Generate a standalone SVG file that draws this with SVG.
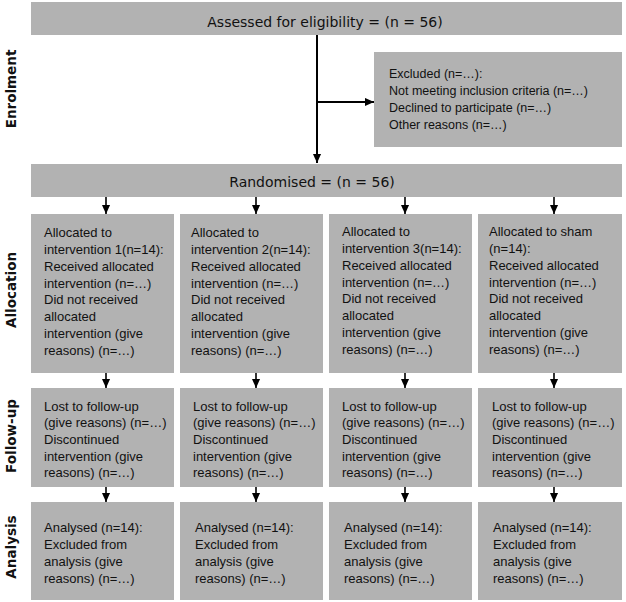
<svg xmlns="http://www.w3.org/2000/svg" width="626" height="602" viewBox="0 0 626 602">
<style>
.box{fill:#b2b2b2}
.title{font-family:"DejaVu Sans",Verdana,sans-serif;font-size:14px;fill:#111}
.lbl{font-family:"DejaVu Sans","Liberation Sans",sans-serif;font-weight:bold;font-size:13.5px;fill:#111}
.t{font-family:"Liberation Sans",Arial,sans-serif;font-size:13px;fill:#111}
.ts{font-family:"Liberation Sans",Arial,sans-serif;font-size:12.5px;fill:#111}
.ln{stroke:#000;stroke-width:2;fill:none}
.sl{stroke:#000;stroke-width:1.6;fill:none}
</style>
<defs>
<marker id="ah" viewBox="0 0 10 10" refX="10" refY="5" markerWidth="9" markerHeight="9" markerUnits="userSpaceOnUse" orient="auto">
<path d="M0,0.5 L10,5 L0,9.5 z" fill="#000"/>
</marker>
</defs>
<rect width="626" height="602" fill="#fff"/>

<g id="phase-labels">
<text class="lbl" transform="translate(16,89) rotate(-90)" text-anchor="middle">Enrolment</text>
<text class="lbl" transform="translate(16,290) rotate(-90)" text-anchor="middle">Allocation</text>
<text class="lbl" transform="translate(16,436) rotate(-90)" text-anchor="middle">Follow-up</text>
<text class="lbl" transform="translate(16,547) rotate(-90)" text-anchor="middle">Analysis</text>
</g>

<g id="connectors">
<line class="ln" x1="317" y1="35" x2="317" y2="163" marker-end="url(#ah)"/>
<line class="ln" x1="317" y1="102" x2="374" y2="102" marker-end="url(#ah)"/>
<line class="sl" x1="106" y1="197" x2="106" y2="214" marker-end="url(#ah)"/>
<line class="sl" x1="256" y1="197" x2="256" y2="214" marker-end="url(#ah)"/>
<line class="sl" x1="405" y1="197" x2="405" y2="214" marker-end="url(#ah)"/>
<line class="sl" x1="554" y1="197" x2="554" y2="214" marker-end="url(#ah)"/>
<line class="sl" x1="106" y1="373" x2="106" y2="388" marker-end="url(#ah)"/>
<line class="sl" x1="256" y1="373" x2="256" y2="388" marker-end="url(#ah)"/>
<line class="sl" x1="405" y1="373" x2="405" y2="388" marker-end="url(#ah)"/>
<line class="sl" x1="554" y1="373" x2="554" y2="388" marker-end="url(#ah)"/>
<line class="sl" x1="106" y1="487" x2="106" y2="502" marker-end="url(#ah)"/>
<line class="sl" x1="256" y1="487" x2="256" y2="502" marker-end="url(#ah)"/>
<line class="sl" x1="405" y1="487" x2="405" y2="502" marker-end="url(#ah)"/>
<line class="sl" x1="554" y1="487" x2="554" y2="502" marker-end="url(#ah)"/>
</g>

<g id="assessed">
<rect class="box" x="31" y="2" width="591" height="33"/>
<text class="title" x="325" y="27" text-anchor="middle">Assessed for eligibility = (n = 56)</text>
</g>

<g id="excluded">
<rect class="box" x="374" y="52" width="248" height="95"/>
<text class="ts" x="389" y="78">Excluded (n=…):</text>
<text class="ts" x="389" y="95">Not meeting inclusion criteria (n=…)</text>
<text class="ts" x="389" y="112">Declined to participate (n=…)</text>
<text class="ts" x="389" y="129">Other reasons (n=…)</text>
</g>

<g id="randomised">
<rect class="box" x="31" y="164" width="591" height="33"/>
<text class="title" x="312" y="187" text-anchor="middle">Randomised = (n = 56)</text>
</g>

<g id="alloc1">
<rect class="box" x="31" y="214" width="143" height="159"/>
<text class="t" x="44" y="237">Allocated to</text>
<text class="t" x="44" y="254">intervention 1(n=14):</text>
<text class="t" x="44" y="271">Received allocated</text>
<text class="t" x="44" y="288">intervention (n=…)</text>
<text class="t" x="44" y="304">Did not received</text>
<text class="t" x="44" y="321">allocated</text>
<text class="t" x="44" y="338">intervention (give</text>
<text class="t" x="44" y="355">reasons) (n=…)</text>
</g>
<g id="alloc2">
<rect class="box" x="180" y="214" width="143" height="159"/>
<text class="t" x="191" y="237">Allocated to</text>
<text class="t" x="191" y="254">intervention 2(n=14):</text>
<text class="t" x="191" y="271">Received allocated</text>
<text class="t" x="191" y="288">intervention (n=…)</text>
<text class="t" x="191" y="304">Did not received</text>
<text class="t" x="191" y="321">allocated</text>
<text class="t" x="191" y="338">intervention (give</text>
<text class="t" x="191" y="355">reasons) (n=…)</text>
</g>
<g id="alloc3">
<rect class="box" x="329" y="214" width="143" height="159"/>
<text class="t" x="342" y="236">Allocated to</text>
<text class="t" x="342" y="253">intervention 3(n=14):</text>
<text class="t" x="342" y="270">Received allocated</text>
<text class="t" x="342" y="287">intervention (n=…)</text>
<text class="t" x="342" y="303">Did not received</text>
<text class="t" x="342" y="320">allocated</text>
<text class="t" x="342" y="337">intervention (give</text>
<text class="t" x="342" y="354">reasons) (n=…)</text>
</g>
<g id="alloc4">
<rect class="box" x="478" y="214" width="144" height="159"/>
<text class="t" x="489" y="236">Allocated to sham</text>
<text class="t" x="489" y="253">(n=14):</text>
<text class="t" x="489" y="270">Received allocated</text>
<text class="t" x="489" y="287">intervention (n=…)</text>
<text class="t" x="489" y="303">Did not received</text>
<text class="t" x="489" y="320">allocated</text>
<text class="t" x="489" y="337">intervention (give</text>
<text class="t" x="489" y="354">reasons) (n=…)</text>
</g>

<g id="follow1">
<rect class="box" x="31" y="388" width="143" height="99"/>
<text class="t" x="44" y="411">Lost to follow-up</text>
<text class="t" x="44" y="427">(give reasons) (n=…)</text>
<text class="t" x="44" y="444">Discontinued</text>
<text class="t" x="44" y="461">intervention (give</text>
<text class="t" x="44" y="477">reasons) (n=…)</text>
</g>
<g id="follow2">
<rect class="box" x="180" y="388" width="143" height="99"/>
<text class="t" x="193" y="411">Lost to follow-up</text>
<text class="t" x="193" y="427">(give reasons) (n=…)</text>
<text class="t" x="193" y="444">Discontinued</text>
<text class="t" x="193" y="461">intervention (give</text>
<text class="t" x="193" y="477">reasons) (n=…)</text>
</g>
<g id="follow3">
<rect class="box" x="329" y="388" width="143" height="99"/>
<text class="t" x="342" y="411">Lost to follow-up</text>
<text class="t" x="342" y="427">(give reasons) (n=…)</text>
<text class="t" x="342" y="444">Discontinued</text>
<text class="t" x="342" y="461">intervention (give</text>
<text class="t" x="342" y="477">reasons) (n=…)</text>
</g>
<g id="follow4">
<rect class="box" x="478" y="388" width="144" height="99"/>
<text class="t" x="492" y="411">Lost to follow-up</text>
<text class="t" x="492" y="427">(give reasons) (n=…)</text>
<text class="t" x="492" y="444">Discontinued</text>
<text class="t" x="492" y="461">intervention (give</text>
<text class="t" x="492" y="477">reasons) (n=…)</text>
</g>

<g id="analysis1">
<rect class="box" x="31" y="502" width="143" height="98"/>
<text class="t" x="44" y="532">Analysed (n=14):</text>
<text class="t" x="44" y="549">Excluded from</text>
<text class="t" x="44" y="566">analysis (give</text>
<text class="t" x="44" y="583">reasons) (n=…)</text>
</g>
<g id="analysis2">
<rect class="box" x="180" y="502" width="143" height="98"/>
<text class="t" x="195" y="532">Analysed (n=14):</text>
<text class="t" x="195" y="549">Excluded from</text>
<text class="t" x="195" y="566">analysis (give</text>
<text class="t" x="195" y="583">reasons) (n=…)</text>
</g>
<g id="analysis3">
<rect class="box" x="329" y="502" width="143" height="98"/>
<text class="t" x="344" y="532">Analysed (n=14):</text>
<text class="t" x="344" y="549">Excluded from</text>
<text class="t" x="344" y="566">analysis (give</text>
<text class="t" x="344" y="583">reasons) (n=…)</text>
</g>
<g id="analysis4">
<rect class="box" x="478" y="502" width="144" height="98"/>
<text class="t" x="493" y="532">Analysed (n=14):</text>
<text class="t" x="493" y="549">Excluded from</text>
<text class="t" x="493" y="566">analysis (give</text>
<text class="t" x="493" y="583">reasons) (n=…)</text>
</g>
</svg>
